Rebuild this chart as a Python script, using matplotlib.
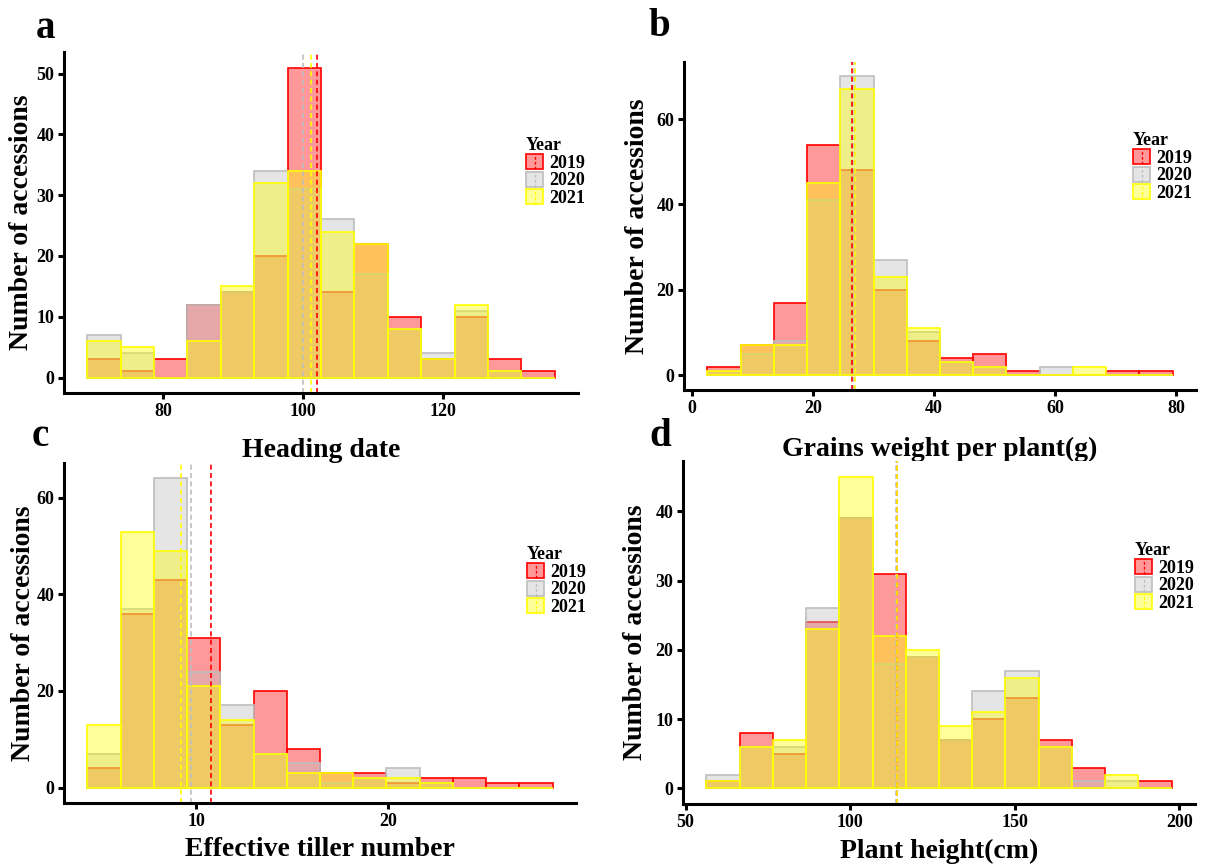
import numpy as np
import matplotlib
matplotlib.use('Agg')
import matplotlib.pyplot as plt
from matplotlib.patches import Patch, Rectangle
from matplotlib.lines import Line2D
from matplotlib.legend_handler import HandlerBase

plt.rcParams['font.family'] = ['Liberation Serif', 'DejaVu Serif']
plt.rcParams['font.weight'] = 'bold'

years = ['2019', '2020', '2021']
colors = ['#FF0000', '#BEBEBE', '#FFFF00']

# counts per bin (14 bins)
heading_2019 = [3, 1, 3, 12, 14, 20, 51, 14, 22, 10, 3, 10, 3, 1]
heading_2020 = [7, 4, 0, 12, 14, 34, 31, 26, 17, 8, 4, 11, 1, 0]
heading_2021 = [6, 5, 0, 6, 15, 32, 34, 24, 22, 8, 3, 12, 1, 0]
heading_range = (69.2, 135.9)
heading_mean = [102.0, 100.0, 101.1]

grains_2019 = [2, 7, 17, 54, 48, 20, 8, 4, 5, 1, 0, 0, 1, 1]
grains_2020 = [1, 5, 8, 41, 70, 27, 10, 3, 2, 0, 2, 0, 0, 0]
grains_2021 = [1, 7, 7, 45, 67, 23, 11, 3, 2, 0, 0, 2, 0, 0]
grains_range = (2.6, 79.4)
grains_mean = [26.5, 26.8, 27.0]

tiller_2019 = [4, 36, 43, 31, 13, 20, 8, 3, 3, 1, 2, 2, 1, 1]
tiller_2020 = [7, 37, 64, 24, 17, 7, 5, 1, 2, 4, 1, 0, 0, 0]
tiller_2021 = [13, 53, 49, 21, 14, 7, 3, 3, 2, 2, 1, 0, 0, 0]
tiller_range = (4.31, 28.6)
tiller_mean = [10.75, 9.70, 9.22]

height_2019 = [1, 8, 5, 24, 39, 31, 19, 7, 10, 13, 7, 3, 0, 1]
height_2020 = [2, 6, 6, 26, 39, 18, 19, 7, 14, 17, 6, 1, 1, 0]
height_2021 = [1, 6, 7, 23, 45, 22, 20, 9, 11, 16, 6, 0, 2, 0]
height_range = (56.3, 197.7)
height_mean = [114.1, 114.0, 114.1]

W, H = 1207, 867


class KeyHandler(HandlerBase):
    def create_artists(self, legend, orig_handle, xdescent, ydescent,
                       width, height, fontsize, trans):
        fc = orig_handle.get_facecolor()
        ec = orig_handle.get_edgecolor()
        r = Rectangle((-xdescent, -ydescent), width, height, facecolor=fc,
                      edgecolor=ec, lw=1.2, transform=trans)
        l = Line2D([-xdescent + width / 2] * 2, [-ydescent, -ydescent + height],
                   color=ec, lw=1.0, ls=(0, (2, 1.5)), transform=trans)
        return [r, l]


def panel(fig, box, counts, rng, means, xticks, yticks, xlabel, letter,
          letter_xy, ylab_x, xlab_y, leg_xy):
    l, t, r, b = box
    ax = fig.add_axes([l / W, 1 - b / H, (r - l) / W, (b - t) / H])
    edges = np.linspace(rng[0], rng[1], len(counts[0]) + 1)
    bw = edges[1] - edges[0]
    for c, col in zip(counts, colors):
        ax.bar(edges[:-1], c, width=bw, align='edge', color=col, alpha=0.4,
               edgecolor='none')
        ax.bar(edges[:-1], c, width=bw, align='edge', fill=False,
               edgecolor=col, lw=1.2)
    # grey mean line first, then red and yellow on top
    for i in [1, 0, 2]:
        ax.axvline(means[i], color=colors[i], lw=1.2, ls=(0, (3, 2)))
    span = rng[1] - rng[0]
    ymax = max(max(c) for c in counts)
    ax.set_xlim(rng[0] - 0.05 * span, rng[1] + 0.05 * span)
    ax.set_ylim(-0.05 * ymax, 1.05 * ymax)
    ax.set_xticks(xticks)
    ax.set_yticks(yticks)
    for s in ['top', 'right']:
        ax.spines[s].set_visible(False)
    for s in ['left', 'bottom']:
        ax.spines[s].set_linewidth(2.2)
    ax.tick_params(width=2.2, length=4, labelsize=13, pad=3)
    ax.set_xlabel(xlabel, fontsize=20, fontweight='bold', va='center')
    ax.set_ylabel('Number of accessions', fontsize=20, fontweight='bold',
                  va='center')
    ax.xaxis.set_label_coords(0.5, xlab_y)
    ax.yaxis.set_label_coords(ylab_x, 0.5)
    fig.text(letter_xy[0] / W, 1 - letter_xy[1] / H, letter, fontsize=28,
             fontweight='bold', ha='center', va='center')
    handles = [Patch(facecolor=matplotlib.colors.to_rgba(col, 0.4),
                     edgecolor=col) for col in colors]
    leg = fig.legend(handles, years, title='Year', loc='upper left',
                     bbox_to_anchor=(leg_xy[0] / W, 1 - leg_xy[1] / H),
                     frameon=False, fontsize=13, title_fontsize=13,
                     handlelength=0.95, handleheight=0.9, labelspacing=0.0,
                     handletextpad=0.35, borderpad=0, borderaxespad=0,
                     alignment='left', handler_map={Patch: KeyHandler()})
    leg.get_title().set_fontweight('bold')
    return ax


fig = plt.figure(figsize=(W / 100, H / 100), dpi=100)

panel(fig, (64, 52, 578, 393),
      [heading_2019, heading_2020, heading_2021], heading_range, heading_mean,
      [80, 100, 120], [0, 10, 20, 30, 40, 50], 'Heading date', 'a',
      (45, 28), -0.082, -0.17, (526, 137))
panel(fig, (684, 61.5, 1196, 390),
      [grains_2019, grains_2020, grains_2021], grains_range, grains_mean,
      [0, 20, 40, 60, 80], [0, 20, 40, 60], 'Grains weight per plant(g)', 'b',
      (659, 27), -0.09, -0.18, (1133, 132))
panel(fig, (64, 463, 576, 803),
      [tiller_2019, tiller_2020, tiller_2021], tiller_range, tiller_mean,
      [10, 20], [0, 20, 40, 60], 'Effective tiller number', 'c',
      (40, 437), -0.08, -0.138, (527, 546))
panel(fig, (683, 461, 1195, 804),
      [height_2019, height_2020, height_2021], height_range, height_mean,
      [50, 100, 150, 200], [0, 10, 20, 30, 40], 'Plant height(cm)', 'd',
      (660, 437), -0.092, -0.138, (1135, 542))

plt.savefig('out.png', dpi=100)
